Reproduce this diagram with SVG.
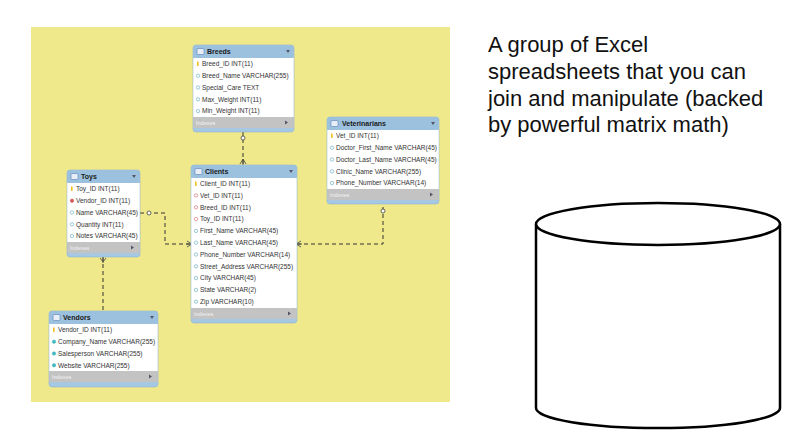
<svg xmlns="http://www.w3.org/2000/svg" width="803" height="447" viewBox="0 0 803 447">
<defs>
<style>
.tb{fill:#a6c8e3;stroke:#8db4d4;stroke-width:0.6}
.hd{fill:#9cc1de}
.bd{fill:#ffffff}
.ix{fill:#c3c3c3}
.ttl{font-family:"Liberation Sans",Arial,sans-serif;font-size:7px;font-weight:bold;fill:#1a1a1a}
.row{font-family:"Liberation Sans",Arial,sans-serif;font-size:6.5px;fill:#333}
.ixt{font-family:"Liberation Sans",Arial,sans-serif;font-size:5.5px;fill:#f4f4f4}
.ico{fill:#e8eef8;stroke:#5a7fb5;stroke-width:0.6}
.tri{fill:#556}
.pk{fill:#f0c020}
.col{fill:#fff;stroke:#72b4c6;stroke-width:0.7}
.fk{fill:#fff;stroke:#d87a7a;stroke-width:0.7}
.fkf{fill:#d45a5a;stroke:#c44;stroke-width:0.5}
.colf{fill:#45b9cc;stroke:#3aa;stroke-width:0.5}
.cn{fill:none;stroke:#333;stroke-width:1;stroke-dasharray:4 3}
.mk{fill:#fff;stroke:#444;stroke-width:0.8}
.mkl{fill:none;stroke:#444;stroke-width:0.8}
.txt{font-family:"Liberation Sans",Arial,sans-serif;font-size:22px;fill:#111}
.cyl{fill:#fff;stroke:#000;stroke-width:2.5}
</style>
</defs>
<rect x="0" y="0" width="803" height="447" fill="#ffffff"/>
<rect x="31" y="27" width="419" height="375" fill="#efe98b"/>

<g id="connectors">
<path class="cn" d="M243,132 V165"/>
<path class="cn" d="M140,213 H165 V244 H191"/>
<path class="cn" d="M297,244 H383 V204"/>
<path class="cn" d="M103,257 V311"/>
<circle class="mk" cx="243" cy="138" r="2"/>
<path class="mkl" d="M240,164 L243,159 L246,164 M243,159 V165"/>
<circle class="mk" cx="149" cy="213" r="2"/>
<path class="mkl" d="M187,241 L192,244 L187,247 M186,244 H192"/>
<path class="mkl" d="M301,241 L296,244 L301,247 M296,244 H302"/>
<circle class="mk" cx="383" cy="211" r="2"/>
<path class="mkl" d="M100,258 L103,262 L106,258 M103,257 V263"/>
</g>

<g id="breeds">
<rect class="tb" x="193" y="45" width="101" height="87" rx="3"/>
<rect class="hd" x="193.3" y="45.3" width="100.4" height="12.7" rx="3"/>
<rect class="bd" x="193.3" y="58" width="100.4" height="59"/>
<rect class="ix" x="193.3" y="117" width="100.4" height="11"/>
<rect class="ico" x="197" y="48.5" width="7" height="6" rx="1"/>
<text class="ttl" x="207" y="54">Breeds</text>
<path class="tri" d="M286,50 h4 l-2,3 z"/>
<rect class="pk" x="197" y="61.5" width="1.6" height="4.5"/>
<text class="row" x="202" y="66.2">Breed_ID INT(11)</text>
<circle class="col" cx="198" cy="75.7" r="1.7"/><text class="row" x="202" y="78">Breed_Name VARCHAR(255)</text>
<circle class="col" cx="198" cy="87.5" r="1.7"/><text class="row" x="202" y="89.8">Special_Care TEXT</text>
<circle class="col" cx="198" cy="99.3" r="1.7"/><text class="row" x="202" y="101.6">Max_Weight INT(11)</text>
<circle class="col" cx="198" cy="111.1" r="1.7"/><text class="row" x="202" y="113.4">Min_Weight INT(11)</text>
<text class="ixt" x="196" y="124.5">Indexes</text>
<path class="tri" d="M285,120.5 v4 l3,-2 z"/>
</g>

<g id="veterinarians">
<rect class="tb" x="327" y="117" width="112" height="87" rx="3"/>
<rect class="hd" x="327.3" y="117.3" width="111.4" height="12.7" rx="3"/>
<rect class="bd" x="327.3" y="130" width="111.4" height="59"/>
<rect class="ix" x="327.3" y="189" width="111.4" height="11"/>
<rect class="ico" x="331" y="120.5" width="7" height="6" rx="1"/>
<text class="ttl" x="342" y="126">Veterinarians</text>
<path class="tri" d="M431,122 h4 l-2,3 z"/>
<rect class="pk" x="331" y="133.5" width="1.6" height="4.5"/>
<text class="row" x="336" y="138.2">Vet_ID INT(11)</text>
<circle class="col" cx="332" cy="147.7" r="1.7"/><text class="row" x="336" y="150">Doctor_First_Name VARCHAR(45)</text>
<circle class="col" cx="332" cy="159.5" r="1.7"/><text class="row" x="336" y="161.8">Doctor_Last_Name VARCHAR(45)</text>
<circle class="col" cx="332" cy="171.3" r="1.7"/><text class="row" x="336" y="173.6">Clinic_Name VARCHAR(255)</text>
<circle class="col" cx="332" cy="183.1" r="1.7"/><text class="row" x="336" y="185.4">Phone_Number VARCHAR(14)</text>
<text class="ixt" x="330" y="196.5">Indexes</text>
<path class="tri" d="M430,192.5 v4 l3,-2 z"/>
</g>

<g id="toys">
<rect class="tb" x="67" y="170" width="73" height="87" rx="3"/>
<rect class="hd" x="67.3" y="170.3" width="72.4" height="12.7" rx="3"/>
<rect class="bd" x="67.3" y="183" width="72.4" height="59"/>
<rect class="ix" x="67.3" y="242" width="72.4" height="11"/>
<rect class="ico" x="71" y="173.5" width="7" height="6" rx="1"/>
<text class="ttl" x="81" y="179">Toys</text>
<path class="tri" d="M132,175 h4 l-2,3 z"/>
<rect class="pk" x="71" y="186.5" width="1.6" height="4.5"/>
<text class="row" x="76" y="191.2">Toy_ID INT(11)</text>
<circle class="fkf" cx="72" cy="200.7" r="1.7"/><text class="row" x="76" y="203">Vendor_ID INT(11)</text>
<circle class="col" cx="72" cy="212.5" r="1.7"/><text class="row" x="76" y="214.8">Name VARCHAR(45)</text>
<circle class="col" cx="72" cy="224.3" r="1.7"/><text class="row" x="76" y="226.6">Quantity INT(11)</text>
<circle class="col" cx="72" cy="236.1" r="1.7"/><text class="row" x="76" y="238.4">Notes VARCHAR(45)</text>
<text class="ixt" x="70" y="249.5">Indexes</text>
<path class="tri" d="M131,245.5 v4 l3,-2 z"/>
</g>

<g id="clients">
<rect class="tb" x="191" y="165" width="106" height="158" rx="3"/>
<rect class="hd" x="191.3" y="165.3" width="105.4" height="12.7" rx="3"/>
<rect class="bd" x="191.3" y="178" width="105.4" height="130"/>
<rect class="ix" x="191.3" y="308" width="105.4" height="11"/>
<rect class="ico" x="195" y="168.5" width="7" height="6" rx="1"/>
<text class="ttl" x="205" y="174">Clients</text>
<path class="tri" d="M289,170 h4 l-2,3 z"/>
<rect class="pk" x="195" y="181.5" width="1.6" height="4.5"/>
<text class="row" x="200" y="186.2">Client_ID INT(11)</text>
<circle class="fk" cx="196" cy="195.5" r="1.7"/><text class="row" x="200" y="197.8">Vet_ID INT(11)</text>
<circle class="fk" cx="196" cy="207.3" r="1.7"/><text class="row" x="200" y="209.6">Breed_ID INT(11)</text>
<circle class="fk" cx="196" cy="219.1" r="1.7"/><text class="row" x="200" y="221.4">Toy_ID INT(11)</text>
<circle class="col" cx="196" cy="230.9" r="1.7"/><text class="row" x="200" y="233.2">First_Name VARCHAR(45)</text>
<circle class="col" cx="196" cy="242.7" r="1.7"/><text class="row" x="200" y="245">Last_Name VARCHAR(45)</text>
<circle class="col" cx="196" cy="254.5" r="1.7"/><text class="row" x="200" y="256.8">Phone_Number VARCHAR(14)</text>
<circle class="col" cx="196" cy="266.3" r="1.7"/><text class="row" x="200" y="268.6">Street_Address VARCHAR(255)</text>
<circle class="col" cx="196" cy="278.1" r="1.7"/><text class="row" x="200" y="280.4">City VARCHAR(45)</text>
<circle class="col" cx="196" cy="289.9" r="1.7"/><text class="row" x="200" y="292.2">State VARCHAR(2)</text>
<circle class="col" cx="196" cy="301.7" r="1.7"/><text class="row" x="200" y="304">Zip VARCHAR(10)</text>
<text class="ixt" x="194" y="315.5">Indexes</text>
<path class="tri" d="M288,311.5 v4 l3,-2 z"/>
</g>

<g id="vendors">
<rect class="tb" x="49" y="311" width="109" height="76" rx="3"/>
<rect class="hd" x="49.3" y="311.3" width="108.4" height="12.7" rx="3"/>
<rect class="bd" x="49.3" y="324" width="108.4" height="47"/>
<rect class="ix" x="49.3" y="371" width="108.4" height="11"/>
<rect class="ico" x="53" y="314.5" width="7" height="6" rx="1"/>
<text class="ttl" x="63" y="320">Vendors</text>
<path class="tri" d="M150,316 h4 l-2,3 z"/>
<rect class="pk" x="53" y="327.5" width="1.6" height="4.5"/>
<text class="row" x="58" y="332.2">Vendor_ID INT(11)</text>
<circle class="colf" cx="54" cy="341.7" r="1.7"/><text class="row" x="58" y="344">Company_Name VARCHAR(255)</text>
<circle class="colf" cx="54" cy="353.5" r="1.7"/><text class="row" x="58" y="355.8">Salesperson VARCHAR(255)</text>
<circle class="colf" cx="54" cy="365.3" r="1.7"/><text class="row" x="58" y="367.6">Website VARCHAR(255)</text>
<text class="ixt" x="52" y="378.5">Indexes</text>
<path class="tri" d="M149,374.5 v4 l3,-2 z"/>
</g>

<g id="caption">
<text class="txt" x="488" y="52">A group of Excel</text>
<text class="txt" x="488" y="79">spreadsheets that you can</text>
<text class="txt" x="488" y="105.5">join and manipulate (backed</text>
<text class="txt" x="488" y="132">by powerful matrix math)</text>
</g>

<g id="database">
<path class="cyl" d="M536,224 V408 A122,20 0 0 0 780,408 V224"/>
<ellipse class="cyl" cx="658" cy="224" rx="122" ry="21"/>
</g>
</svg>
